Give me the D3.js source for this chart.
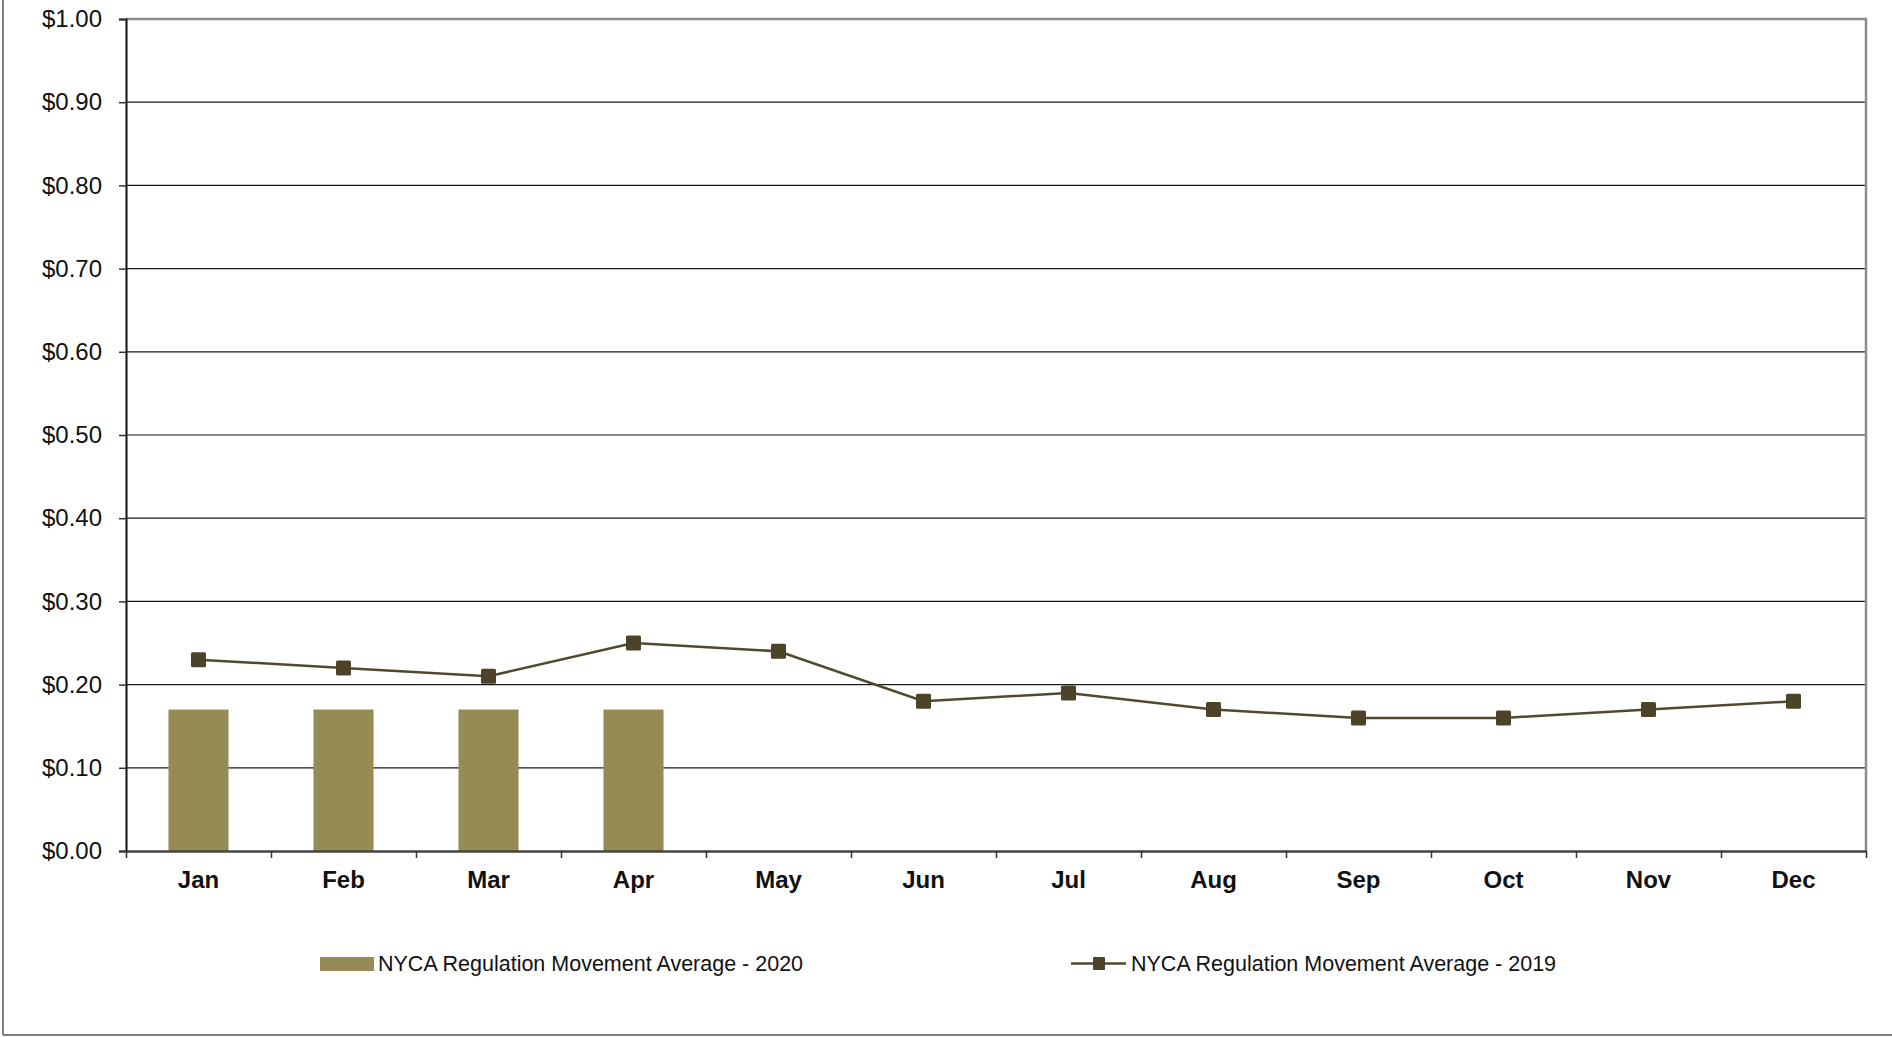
<!DOCTYPE html>
<html>
<head>
<meta charset="utf-8">
<script src="https://cdn.jsdelivr.net/npm/d3@7"></script>
<style>
  body { margin: 0; background: #fff; }
  svg { display: block; font-family: "Liberation Sans", Arial, sans-serif; }
</style>
</head>
<body>
<div id="chart"></div>
<script>
// data
var months = ["Jan", "Feb", "Mar", "Apr", "May", "Jun", "Jul", "Aug", "Sep", "Oct", "Nov", "Dec"];
var avg2020 = [0.17, 0.17, 0.17, 0.17];
var avg2019 = [0.23, 0.22, 0.21, 0.25, 0.24, 0.18, 0.19, 0.17, 0.16, 0.16, 0.17, 0.18];
var yTicks = [0, 0.1, 0.2, 0.3, 0.4, 0.5, 0.6, 0.7, 0.8, 0.9, 1.0];
var seriesNames = ["NYCA Regulation Movement Average - 2020", "NYCA Regulation Movement Average - 2019"];

var W = 1892, H = 1037;
// plot area edges (window.top is reserved, so no "top" here)
var pLeft = 126, pRight = 1866, pTop = 19, pBottom = 851;

var barColor = "#968b55";
var lineColor = "#4f4a2e";
var markColor = "#4b4429";

var svg = d3.select("#chart").append("svg")
  .attr("width", W)
  .attr("height", H);

// outer frame (only left and bottom visible in the picture)
svg.append("line").attr("x1", 3).attr("x2", 3).attr("y1", 0).attr("y2", 1035)
  .attr("stroke", "#808080").attr("stroke-width", 2);
svg.append("line").attr("x1", 3).attr("x2", W).attr("y1", 1035).attr("y2", 1035)
  .attr("stroke", "#808080").attr("stroke-width", 2);

// scales
var x = d3.scaleBand().domain(months).range([pLeft, pRight]).padding(0);
var xEdge = d3.scaleLinear().domain([0, months.length]).range([pLeft, pRight]);
var y = d3.scaleLinear().domain([0, 1]).range([pBottom, pTop]);

// gridlines
svg.append("g")
  .selectAll("line")
  .data(yTicks.filter(function(d) { return d > 0 && d < 1; }))
  .enter().append("line")
  .attr("x1", pLeft).attr("x2", pRight)
  .attr("y1", function(d) { return y(d); })
  .attr("y2", function(d) { return y(d); })
  .attr("stroke", "#1a1a1a")
  .attr("stroke-width", 1.2);

// plot frame top / right
svg.append("line").attr("x1", pLeft).attr("x2", pRight + 1).attr("y1", pTop).attr("y2", pTop)
  .attr("stroke", "#8c8c8c").attr("stroke-width", 2.5);
svg.append("line").attr("x1", pRight).attr("x2", pRight).attr("y1", pTop).attr("y2", pBottom)
  .attr("stroke", "#8c8c8c").attr("stroke-width", 2.5);

// bars 2020
var bw = x.bandwidth() * 0.414;
svg.append("g")
  .selectAll("rect")
  .data(avg2020)
  .enter().append("rect")
  .attr("x", function(d, i) { return x(months[i]) + x.bandwidth() / 2 - bw / 2; })
  .attr("y", function(d) { return y(d); })
  .attr("width", bw)
  .attr("height", function(d) { return y(0) - y(d); })
  .attr("fill", barColor);

// y axis
var yAxis = svg.append("g")
  .attr("transform", "translate(" + pLeft + ",0)")
  .call(d3.axisLeft(y).tickValues(yTicks).tickSize(7).tickPadding(17).tickFormat(d3.format("$.2f")));
yAxis.select(".domain").attr("stroke", "#111").attr("stroke-width", 2);
yAxis.selectAll(".tick line").attr("stroke", "#333").attr("stroke-width", 1.5);
yAxis.selectAll(".tick text")
  .attr("fill", "#111")
  .style("font-size", "24px")
  .style("font-family", "'Liberation Sans', Arial, sans-serif");

// x axis: tick marks on the category edges
var xAxis = svg.append("g")
  .attr("transform", "translate(0," + pBottom + ")")
  .call(d3.axisBottom(xEdge).tickValues(d3.range(months.length + 1)).tickSize(7).tickSizeOuter(0).tickFormat(""));
xAxis.select(".domain").attr("stroke", "#444").attr("stroke-width", 2.5);
xAxis.selectAll(".tick line").attr("stroke", "#333").attr("stroke-width", 1.5);

// month labels
svg.append("g")
  .selectAll("text")
  .data(months)
  .enter().append("text")
  .attr("x", function(d) { return x(d) + x.bandwidth() / 2; })
  .attr("y", 888)
  .attr("text-anchor", "middle")
  .style("font-size", "24px")
  .style("font-weight", "bold")
  .attr("fill", "#111")
  .text(function(d) { return d; });

// line 2019
var line = d3.line()
  .x(function(d, i) { return x(months[i]) + x.bandwidth() / 2; })
  .y(function(d) { return y(d); });

svg.append("path")
  .datum(avg2019)
  .attr("d", line)
  .attr("fill", "none")
  .attr("stroke", lineColor)
  .attr("stroke-width", 2.5);

var ms = 15;
svg.append("g")
  .selectAll("rect")
  .data(avg2019)
  .enter().append("rect")
  .attr("x", function(d, i) { return x(months[i]) + x.bandwidth() / 2 - ms / 2; })
  .attr("y", function(d) { return y(d) - ms / 2; })
  .attr("width", ms)
  .attr("height", ms)
  .attr("rx", 1.5)
  .attr("fill", markColor);

// legend
var lg = svg.append("g");
lg.append("rect")
  .attr("x", 320).attr("y", 957).attr("width", 54).attr("height", 14)
  .attr("fill", barColor);
lg.append("text")
  .attr("x", 378).attr("y", 971)
  .style("font-size", "21.5px")
  .attr("fill", "#111")
  .text(seriesNames[0]);

lg.append("line")
  .attr("x1", 1071).attr("x2", 1126).attr("y1", 963.5).attr("y2", 963.5)
  .attr("stroke", lineColor).attr("stroke-width", 2.5);
lg.append("rect")
  .attr("x", 1093).attr("y", 957).attr("width", 12).attr("height", 13)
  .attr("rx", 1)
  .attr("fill", markColor);
lg.append("text")
  .attr("x", 1131).attr("y", 971)
  .style("font-size", "21.5px")
  .attr("fill", "#111")
  .text(seriesNames[1]);
</script>
</body>
</html>
